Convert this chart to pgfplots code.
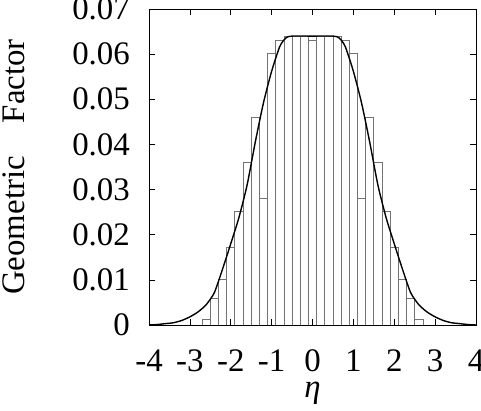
\documentclass[border=0pt]{standalone}
\usepackage{fontspec}
\setmainfont{Liberation Serif}
\usepackage{pgfplots}
\pgfplotsset{compat=1.18}

\begin{document}
\begin{tikzpicture}
\begin{axis}[
  scale only axis, width=327bp, height=316bp,
  xmin=-4, xmax=4, ymin=0, ymax=0.07,
  xtick={-4,-3,-2,-1,0,1,2,3,4},
  xticklabels={-4,-3,-2,-1,0,1,2,3,4},
  ytick={0,0.01,0.02,0.03,0.04,0.05,0.06,0.07},
  yticklabels={0,0.01,0.02,0.03,0.04,0.05,0.06,0.07},
  tick align=inside, tick pos=both, major tick length=6bp,
  every tick/.style={black, line width=0.6bp},
  axis line style={line width=0.8bp},
  tick label style={font=\fontsize{33}{33}\selectfont, inner sep=0pt},
  xticklabel style={anchor=base, yshift=-47bp},
  yticklabel style={anchor=east, xshift=-19bp},
  xlabel={\textit{η}},
  xlabel style={font=\fontsize{33}{33}\selectfont, at={(rel axis cs:0.5,0)}, anchor=center, yshift=-68bp, inner sep=0pt},
  ylabel={Geometric\quad Factor},
  ylabel style={font=\fontsize{33}{33}\selectfont, at={(rel axis cs:0,0.5)}, anchor=south, yshift=124bp, inner sep=0pt},
]
\coordinate (bl) at (rel axis cs:0,0);
\coordinate (tr) at (rel axis cs:1,1);
% histogram (left bin edges)
\addplot[ybar interval, draw=black!55, fill=none, line width=0.7bp] coordinates {
  (-2.7,0.0012) (-2.5,0.0059) (-2.3,0.0100) (-2.1,0.0171) (-1.9,0.0251)
  (-1.7,0.0360) (-1.5,0.0460) (-1.3,0.0281) (-1.1,0.0602) (-0.9,0.0630)
  (-0.7,0.0639) (-0.5,0.0639) (-0.3,0.0639) (-0.1,0.0630) (0.1,0.0639)
  (0.3,0.0639) (0.5,0.0639) (0.7,0.0630) (0.9,0.0602) (1.1,0.0281)
  (1.3,0.0460) (1.5,0.0360) (1.7,0.0251) (1.9,0.0171) (2.1,0.0100)
  (2.3,0.0059) (2.5,0.0012) (2.7,0)
};
% geometric factor curve
\addplot[black, line width=1.4bp, smooth, tension=0.4] coordinates {
  (-4.0,0.0000) (-3.8,0.0001) (-3.6,0.0003) (-3.4,0.0005) (-3.2,0.0010)
  (-3.0,0.0018) (-2.8,0.0029) (-2.6,0.0045) (-2.4,0.0072) (-2.2,0.0124)
  (-2.0,0.0180) (-1.8,0.0238) (-1.6,0.0310) (-1.4,0.0405) (-1.2,0.0492)
  (-1.0,0.0562) (-0.8,0.0617) (-0.65,0.0636) (-0.5,0.0640) (0,0.0640)
  (0.5,0.0640) (0.65,0.0636) (0.8,0.0617) (1.0,0.0562) (1.2,0.0492)
  (1.4,0.0405) (1.6,0.0310) (1.8,0.0238) (2.0,0.0180) (2.2,0.0124)
  (2.4,0.0072) (2.6,0.0045) (2.8,0.0029) (3.0,0.0018) (3.2,0.0010)
  (3.4,0.0005) (3.6,0.0003) (3.8,0.0001) (4.0,0.0000)
};
\end{axis}
\pgfresetboundingbox
\path ([shift={(-149bp,-86bp)}]bl) rectangle ([shift={(5bp,9bp)}]tr);
\end{tikzpicture}
\end{document}
